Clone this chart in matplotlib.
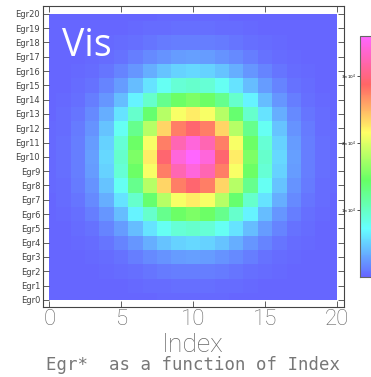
import numpy as np
import matplotlib
matplotlib.use("Agg")
import matplotlib.pyplot as plt
from matplotlib.colors import LinearSegmentedColormap
from matplotlib.patches import Rectangle

# Egr0 .. Egr20 rows, values in units of 100, columns are Index 0..20
egr_rows = [
    [0, 0, 0, 0, 0, 1, 1, 1, 2, 2, 2, 2, 2, 1, 1, 1, 0, 0, 0, 0, 0],
    [0, 0, 0, 0, 1, 1, 2, 3, 4, 5, 5, 5, 4, 3, 2, 1, 1, 0, 0, 0, 0],
    [0, 0, 0, 1, 2, 3, 5, 8, 10, 12, 12, 12, 10, 8, 5, 3, 2, 1, 0, 0, 0],
    [0, 0, 1, 2, 4, 7, 12, 17, 22, 26, 27, 26, 22, 17, 12, 7, 4, 2, 1, 0, 0],
    [0, 1, 2, 4, 8, 15, 23, 34, 44, 51, 54, 51, 44, 34, 23, 15, 8, 4, 2, 1, 0],
    [1, 1, 3, 7, 15, 26, 42, 60, 78, 92, 97, 92, 78, 60, 42, 26, 15, 7, 3, 1, 1],
    [1, 2, 5, 12, 23, 42, 67, 97, 126, 147, 155, 147, 126, 97, 67, 42, 23, 12, 5, 2, 1],
    [1, 3, 8, 17, 34, 60, 97, 140, 182, 213, 224, 213, 182, 140, 97, 60, 34, 17, 8, 3, 1],
    [2, 4, 10, 22, 44, 78, 126, 182, 236, 277, 292, 277, 236, 182, 126, 78, 44, 22, 10, 4, 2],
    [2, 5, 12, 26, 51, 92, 147, 213, 277, 324, 342, 324, 277, 213, 147, 92, 51, 26, 12, 5, 2],
    [2, 5, 12, 27, 54, 97, 155, 224, 292, 342, 360, 342, 292, 224, 155, 97, 54, 27, 12, 5, 2],
    [2, 5, 12, 26, 51, 92, 147, 213, 277, 324, 342, 324, 277, 213, 147, 92, 51, 26, 12, 5, 2],
    [2, 4, 10, 22, 44, 78, 126, 182, 236, 277, 292, 277, 236, 182, 126, 78, 44, 22, 10, 4, 2],
    [1, 3, 8, 17, 34, 60, 97, 140, 182, 213, 224, 213, 182, 140, 97, 60, 34, 17, 8, 3, 1],
    [1, 2, 5, 12, 23, 42, 67, 97, 126, 147, 155, 147, 126, 97, 67, 42, 23, 12, 5, 2, 1],
    [1, 1, 3, 7, 15, 26, 42, 60, 78, 92, 97, 92, 78, 60, 42, 26, 15, 7, 3, 1, 1],
    [0, 1, 2, 4, 8, 15, 23, 34, 44, 51, 54, 51, 44, 34, 23, 15, 8, 4, 2, 1, 0],
    [0, 0, 1, 2, 4, 7, 12, 17, 22, 26, 27, 26, 22, 17, 12, 7, 4, 2, 1, 0, 0],
    [0, 0, 0, 1, 2, 3, 5, 8, 10, 12, 12, 12, 10, 8, 5, 3, 2, 1, 0, 0, 0],
    [0, 0, 0, 0, 1, 1, 2, 3, 4, 5, 5, 5, 4, 3, 2, 1, 1, 0, 0, 0, 0],
    [0, 0, 0, 0, 0, 1, 1, 1, 2, 2, 2, 2, 2, 1, 1, 1, 0, 0, 0, 0, 0],
]
row_labels = [f"Egr{i}" for i in range(21)]
x_ticks = [0, 5, 10, 15, 20]
cbar_ticks = [1e4, 2e4, 3e4]
cbar_labels = ["1\u00d710$^4$", "2\u00d710$^4$", "3\u00d710$^4$"]

z = np.array(egr_rows, dtype=float) * 100

cmap = LinearSegmentedColormap.from_list(
    "vis", ["#6666ff", "#66ffff", "#66ff66", "#ffff66", "#ff6666", "#ff66ff"])

fig = plt.figure(figsize=(3.71, 3.77), dpi=100)
ax = fig.add_axes([0.1159, 0.1857, 0.8113, 0.7983])

im = ax.imshow(z, origin="lower", extent=(-0.5, 20.5, -0.5, 20.5),
               cmap=cmap, vmin=0, vmax=z.max(), interpolation="nearest",
               aspect="auto")
im.set_clip_path(Rectangle((0, 0), 20, 20, transform=ax.transData))
ax.set_xlim(-0.45, 20.5)
ax.set_ylim(-0.5, 20.55)

grey = "#666666"
ax.set_xticks(x_ticks)
ax.set_xticklabels([str(t) for t in x_ticks], fontsize=16, color=grey,
                   family="Roboto", fontweight="light")
ax.set_yticks(range(21))
ax.set_yticklabels(row_labels, fontsize=6, color="#444444")
ax.tick_params(direction="in", top=True, right=True, length=4, width=0.6,
               color="#444444", pad=2)
ax.tick_params(axis="x", pad=1.5)
for s in ax.spines.values():
    s.set_color("#444444")
    s.set_linewidth(0.8)

fig.text(0.52, 0.086, "Index", ha="center", va="center", fontsize=19,
         color=grey, family="Roboto", fontweight="light")
fig.text(0.52, 0.031, "Egr*  as a function of Index", ha="center",
         va="center", fontsize=12.5, color="#777777",
         family="DejaVu Sans Mono")

ax.text(0.9, 19.05, "Vis", color="white", fontsize=27, family="Open Sans",
        va="top", ha="left")

cax = fig.add_axes([0.970, 0.265, 0.035, 0.639])
cb = fig.colorbar(im, cax=cax, ticks=cbar_ticks)
cb.ax.set_yticklabels(cbar_labels)
cb.ax.yaxis.set_ticks_position("left")
cb.ax.tick_params(labelsize=3, length=2, width=0.5, pad=1)
cb.outline.set_edgecolor("#666666")
cb.outline.set_linewidth(0.8)

fig.savefig("out.png", dpi=100)
